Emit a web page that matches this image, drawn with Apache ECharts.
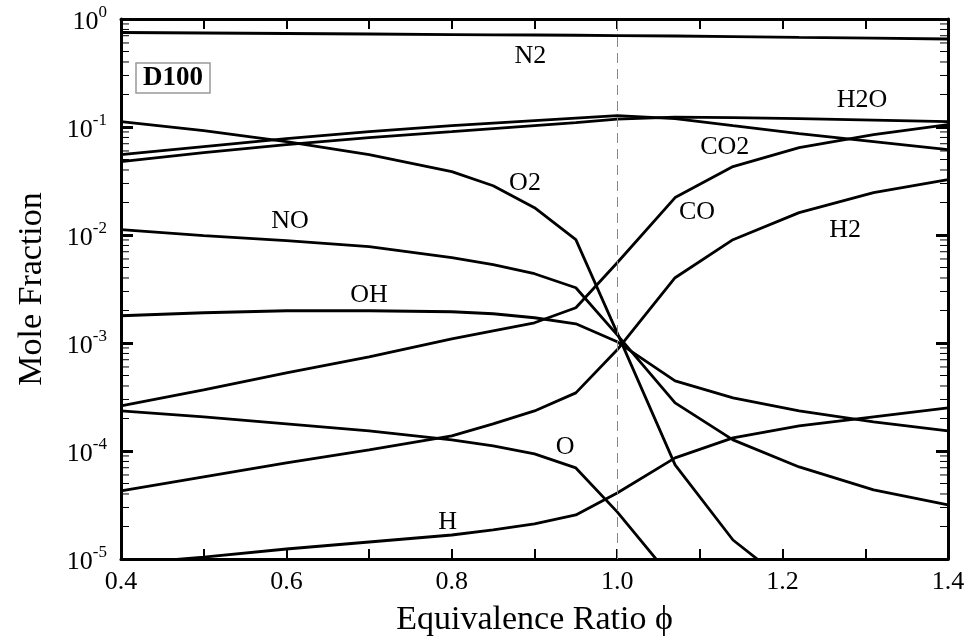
<!DOCTYPE html>
<html>
<head>
<meta charset="utf-8">
<script src="https://cdn.jsdelivr.net/npm/echarts@6/dist/echarts.min.js"></script>
<style>
  html, body { margin: 0; padding: 0; background: #fff; }
  #chart { width: 971px; height: 644px; }
</style>
</head>
<body>
<div id="chart"></div>
<script>
// equivalence ratio grid
const phi = [0.4, 0.5, 0.6, 0.7, 0.8, 0.85, 0.9, 0.95, 1.0, 1.07, 1.14, 1.22, 1.31, 1.4]

// mole fractions
const N2 = [0.750, 0.742, 0.734, 0.726, 0.718, 0.714, 0.711, 0.707, 0.703, 0.696, 0.688, 0.676, 0.665, 0.653]
const CO2 = [0.0555, 0.0658, 0.0781, 0.0906, 0.103, 0.1087, 0.1147, 0.1209, 0.1275, 0.1197, 0.103, 0.0869, 0.0732, 0.0617]
const H2O = [0.0478, 0.0579, 0.0687, 0.0798, 0.0906, 0.0966, 0.103, 0.1099, 0.1184, 0.1235, 0.1222, 0.1197, 0.1159, 0.1122]
const O2 = [0.1122, 0.0926, 0.0732, 0.0555, 0.0386, 0.0286, 0.0179, 0.00905, 0.00124, 7.43e-5, 1.5e-5, 4.94e-6, null, null]
const CO = [2.62e-4, 3.68e-4, 5.29e-4, 7.45e-4, 1.094e-3, 1.297e-3, 1.539e-3, 2.12e-3, 5.54e-3, 0.0222, 0.043, 0.0644, 0.085, 0.1052]
const H2 = [4.27e-5, 5.75e-5, 7.76e-5, 1.024e-4, 1.38e-4, 1.783e-4, 2.35e-4, 3.455e-4, 8.65e-4, 4.02e-3, 9.05e-3, 0.0161, 0.0247, 0.0325]
const NO = [0.0112, 0.00985, 0.00886, 0.00779, 0.00616, 0.00531, 0.00438, 0.00325, 1.191e-3, 2.79e-4, 1.268e-4, 7.12e-5, 4.36e-5, 3.17e-5]
const OH = [1.787e-3, 1.905e-3, 1.988e-3, 1.988e-3, 1.946e-3, 1.865e-3, 1.713e-3, 1.506e-3, 1.026e-3, 4.46e-4, 3.1e-4, 2.35e-4, 1.861e-4, 1.536e-4]
const O = [2.35e-4, 2.07e-4, 1.783e-4, 1.536e-4, 1.268e-4, 1.115e-4, 9.4e-5, 6.97e-5, 2.73e-5, 6.12e-6, null, null, null, null]
const H = [8.99e-6, 1.043e-5, 1.238e-5, 1.437e-5, 1.668e-5, 1.857e-5, 2.11e-5, 2.557e-5, 4.09e-5, 8.63e-5, 1.322e-4, 1.708e-4, 2.07e-4, 2.51e-4]

const species = [['N2', N2], ['CO2', CO2], ['H2O', H2O], ['O2', O2], ['CO', CO], ['H2', H2], ['NO', NO], ['OH', OH], ['O', O], ['H', H]]

// where each curve name is written (phi, mole fraction)
const labelSpots = [
  ['N2', 0.895, 0.449], ['H2O', 1.296, 0.1757], ['CO2', 1.13, 0.0644], ['O2', 0.8885, 0.0305],
  ['CO', 1.0965, 0.0161], ['H2', 1.2755, 0.0112], ['NO', 0.6044, 0.01357], ['OH', 0.70, 0.0028],
  ['O', 0.937, 1.09e-4], ['H', 0.795, 2.2e-5]
]

const stoich = 1.0
const FONT = 'Liberation Serif'

const chartDom = document.getElementById('chart')
const myChart = echarts.init(chartDom)

const series = species.map(function (s, i) {
  const item = {
    name: s[0],
    type: 'line',
    data: phi.map((x, j) => [x, s[1][j]]),
    showSymbol: false,
    clip: true,
    lineStyle: { color: '#000', width: 2.8 },
    z: 3
  }
  if (i === 0) {
    item.markLine = {
      silent: true,
      symbol: 'none',
      label: { show: false },
      lineStyle: { color: '#888', type: [10, 6], width: 1 },
      data: [{ xAxis: stoich }]
    }
  }
  return item
})

// curve names
series.push({
  type: 'scatter',
  data: labelSpots,
  symbolSize: 1,
  itemStyle: { color: 'rgba(0,0,0,0)', opacity: 1 },
  silent: true,
  label: {
    show: true,
    position: 'inside',
    formatter: p => p.data[0],
    color: '#000',
    textBorderWidth: 0,
    fontSize: 26,
    fontFamily: FONT
  },
  encode: { x: 1, y: 2 },
  z: 5
})

const sup = v => {
  const e = Math.round(Math.log10(v))
  return '{b|10}{s|' + e + '}'
}

const option = {
  animation: false,
  backgroundColor: '#fff',
  title: {
    text: 'D100',
    left: 136,
    top: 63,
    borderColor: '#999',
    borderWidth: 1.5,
    padding: [2, 7, 1, 7],
    textStyle: { fontFamily: FONT, fontWeight: 'bold', fontSize: 27, color: '#000' }
  },
  grid: { left: 121, right: 23, top: 19, bottom: 85 },
  xAxis: [
    {
      type: 'value',
      min: 0.4,
      max: 1.4,
      interval: 0.1,
      name: 'Equivalence Ratio \u03d5',
      nameLocation: 'middle',
      nameGap: 44,
      nameTextStyle: { fontFamily: FONT, fontSize: 34, color: '#000' },
      axisLine: { lineStyle: { color: '#000', width: 3 } },
      axisTick: { inside: true, length: 10, lineStyle: { color: '#000', width: 2 } },
      axisLabel: {
        margin: 10,
        color: '#000',
        fontSize: 26,
        fontFamily: FONT,
        formatter: v => (Math.round(v * 10) % 2 === 0 ? v.toFixed(1) : '')
      },
      splitLine: { show: false }
    },
    {
      type: 'value',
      position: 'top',
      min: 0.4,
      max: 1.4,
      interval: 0.1,
      axisLine: { lineStyle: { color: '#000', width: 3 } },
      axisTick: { inside: true, length: 10, lineStyle: { color: '#000', width: 2 } },
      axisLabel: { show: false },
      splitLine: { show: false }
    }
  ],
  yAxis: [
    {
      type: 'log',
      logBase: 10,
      min: 1e-5,
      max: 1,
      name: 'Mole Fraction',
      nameLocation: 'middle',
      nameGap: 72,
      nameTextStyle: { fontFamily: FONT, fontSize: 34, color: '#000' },
      axisLine: { lineStyle: { color: '#000', width: 3 } },
      axisTick: { inside: true, length: 12, lineStyle: { color: '#000', width: 3 } },
      axisLabel: {
        margin: 14,
        color: '#000',
        formatter: sup,
        rich: {
          b: { fontSize: 26, fontFamily: FONT, color: '#000', lineHeight: 30, padding: [6, 0, 0, 0] },
          s: { fontSize: 17, fontFamily: FONT, color: '#000', lineHeight: 18, verticalAlign: 'top' }
        }
      },
      splitLine: { show: false }
    },
    {
      type: 'log',
      logBase: 10,
      min: 1e-5,
      max: 1,
      position: 'right',
      axisLine: { lineStyle: { color: '#000', width: 3 } },
      axisTick: { inside: true, length: 12, lineStyle: { color: '#000', width: 3 } },
      axisLabel: { show: false },
      splitLine: { show: false }
    }
  ],
  series: series
}

myChart.setOption(option)

// minor log ticks (2..9 per decade) on left and right sides
const xl = myChart.convertToPixel({ xAxisIndex: 0 }, 0.4)
const xr = myChart.convertToPixel({ xAxisIndex: 0 }, 1.4)
const minor = []
for (let n = -5; n < 0; n++) {
  for (let k = 2; k <= 9; k++) {
    const py = myChart.convertToPixel({ yAxisIndex: 0 }, k * Math.pow(10, n))
    minor.push({ type: 'line', shape: { x1: xl, y1: py, x2: xl + 8, y2: py }, style: { stroke: '#000', lineWidth: 1 }, z: 10 })
    minor.push({ type: 'line', shape: { x1: xr, y1: py, x2: xr - 8, y2: py }, style: { stroke: '#000', lineWidth: 1 }, z: 10 })
  }
}
myChart.setOption({ graphic: minor })
</script>
</body>
</html>
